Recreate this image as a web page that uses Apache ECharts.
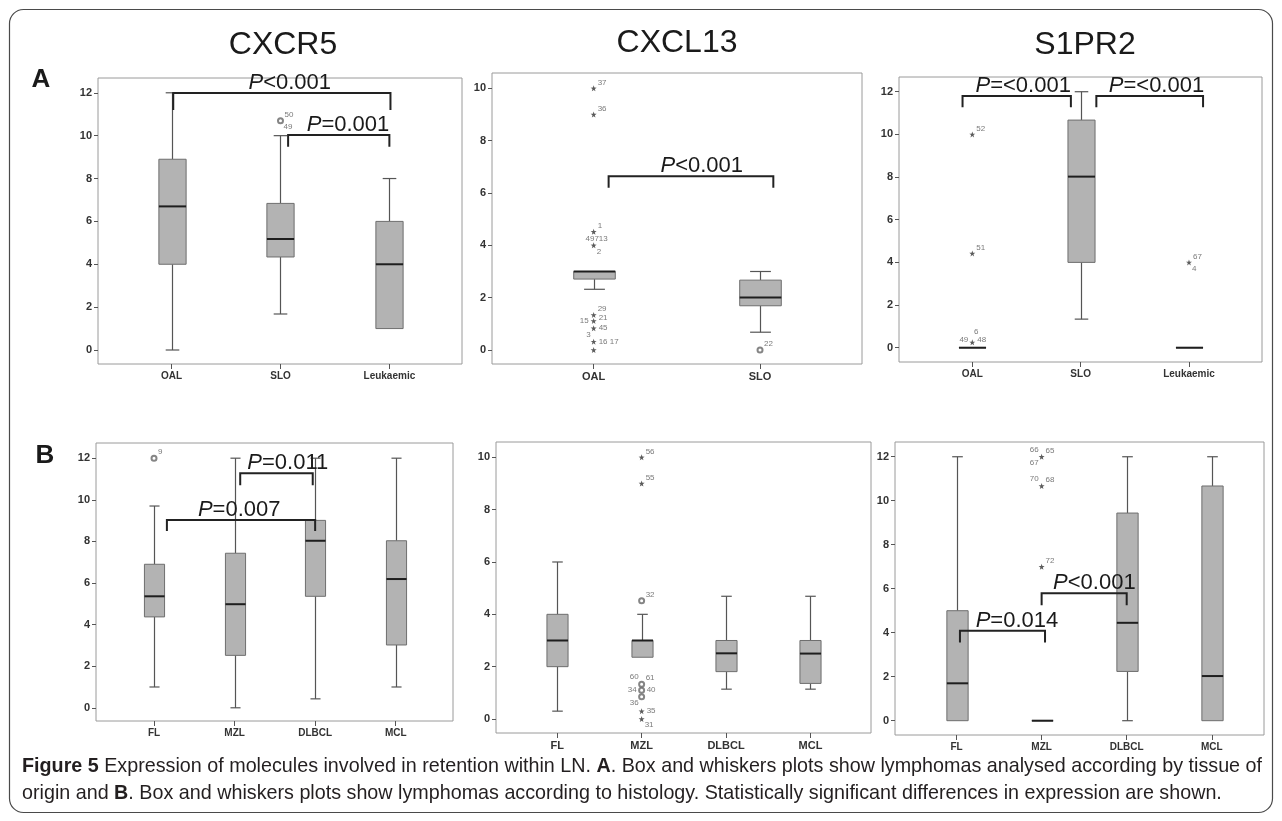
<!DOCTYPE html>
<html><head><meta charset="utf-8">
<script src="https://cdn.jsdelivr.net/npm/echarts@6/dist/echarts.min.js"></script>
<style>html,body{margin:0;padding:0;background:#fff}#c{width:1282px;height:821px}</style>
</head><body><div id="c"></div><script>
// ---------------- DATA ----------------
const catsOrigin = ['OAL', 'SLO', 'Leukaemic'];
const catsOrigin2 = ['OAL', 'SLO'];
const catsHist = ['FL', 'MZL', 'DLBCL', 'MCL'];
const ticks12 = [0, 2, 4, 6, 8, 10, 12];
const ticks10 = [0, 2, 4, 6, 8, 10];
const panelTitles = ['CXCR5', 'CXCL13', 'S1PR2'];
const rowLetters = ['A', 'B'];

// box stats per category: [min, q1, median, q3, max]
const cxcr5Origin = [[0, 4.0, 6.7, 8.9, 12], [1.68, 4.34, 5.18, 6.84, 10], [1, 1, 4, 6, 8]];
const cxcl13Origin = [[2.32, 2.71, 3.0, 3.0, 3.0], [0.68, 1.69, 2.01, 2.67, 3.0]];
const s1pr2Origin = [[0, 0, 0, 0, 0], [1.34, 4.0, 8.02, 10.67, 12], [0, 0, 0, 0, 0]];
const cxcr5Hist = [[1.0, 4.37, 5.36, 6.9, 9.7], [0, 2.52, 4.98, 7.43, 12], [0.43, 5.36, 8.03, 9.01, 12], [1.0, 3.02, 6.19, 8.03, 12]];
const cxcl13Hist = [[0.3, 2.0, 3.0, 4.0, 6.0], [2.36, 2.36, 3.0, 3.0, 4.0], [1.14, 1.81, 2.51, 3.0, 4.69], [1.14, 1.36, 2.5, 3.0, 4.69]];
const s1pr2Hist = [[0, 0, 1.7, 5.0, 12], [0, 0, 0, 0, 0], [0, 2.24, 4.45, 9.44, 12], [0, 0, 2.03, 10.67, 12]];

// outliers: [category number, value, kind ('o' circle, '*' extreme)]
const cxcr5OriginOut = [[2, 10.7, 'o']];
const cxcl13OriginOut = [[1, 10, '*'], [1, 9, '*'], [1, 4.52, '*'], [1, 4.0, '*'], [1, 1.34, '*'], [1, 1.11, '*'], [1, 0.83, '*'], [1, 0.32, '*'], [1, 0, '*'], [2, 0, 'o']];
const s1pr2OriginOut = [[1, 10, '*'], [1, 4.42, '*'], [1, 0.25, '*'], [3, 4.0, '*']];
const cxcr5HistOut = [[1, 12, 'o']];
const cxcl13HistOut = [[2, 10, '*'], [2, 9, '*'], [2, 4.52, 'o'], [2, 1.33, 'o'], [2, 1.1, 'o'], [2, 0.85, 'o'], [2, 0.3, '*'], [2, 0, '*']];
const s1pr2HistOut = [[2, 12, '*'], [2, 10.67, '*'], [2, 7.0, '*']];

// outlier case labels: [category number, value, text, placement]
const cxcr5OriginLab = [[2, 10.7, '50', 'tr'], [2, 10.7, '49', 'br']];
const cxcl13OriginLab = [[1, 10, '37', 'tr'], [1, 9, '36', 'tr'], [1, 4.52, '1', 'tr'], [1, 4.0, '49713', 't'], [1, 4.0, '2', 'br'],
  [1, 1.34, '29', 'tr'], [1, 1.11, '15', 'l'], [1, 1.11, '21', 'ru'], [1, 0.83, '45', 'r'], [1, 0.32, '3', 'tl'], [1, 0.32, '16 17', 'r'], [2, 0, '22', 'tr']];
const s1pr2OriginLab = [[1, 10, '52', 'tr'], [1, 4.42, '51', 'tr'], [1, 0.25, '6', 'tt'], [1, 0.25, '49', 'lu'], [1, 0.25, '48', 'ru'], [3, 4.0, '67', 'tr'], [3, 4.0, '4', 'br']];
const cxcr5HistLab = [[1, 12, '9', 'tr']];
const cxcl13HistLab = [[2, 10, '56', 'tr'], [2, 9, '55', 'tr'], [2, 4.52, '32', 'tr'], [2, 1.33, '60', 'tl'], [2, 1.33, '61', 'tr'],
  [2, 1.1, '34', 'l'], [2, 1.1, '40', 'r'], [2, 0.85, '36', 'bl'], [2, 0.3, '35', 'r'], [2, 0, '31', 'br']];
const s1pr2HistLab = [[2, 12, '66', 'tl'], [2, 12, '65', 'tr'], [2, 12, '67', 'bl'], [2, 10.67, '70', 'tl'], [2, 10.67, '68', 'tr'], [2, 7.0, '72', 'tr']];

// significance brackets: [from cat, to cat, bar value, end value, text centre cat, p text]
const cxcr5OriginSig = [[1.015, 3.01, 11.99, 11.2, 2.085, '<0.001'], [2.07, 3.0, 10.03, 9.48, 2.62, '=0.001']];
const cxcl13OriginSig = [[1.09, 2.08, 6.64, 6.2, 1.65, '<0.001']];
const s1pr2OriginSig = [[0.91, 1.91, 11.8, 11.27, 1.47, '=<0.001'], [2.145, 3.13, 11.8, 11.27, 2.70, '=<0.001']];
const cxcr5HistSig = [[2.07, 2.97, 11.28, 10.7, 2.66, '=0.011'], [1.16, 3.0, 9.03, 8.5, 2.057, '=0.007']];
const cxcl13HistSig = [];
const s1pr2HistSig = [[1.04, 2.04, 4.09, 3.55, 1.71, '=0.014'], [2.0, 3.0, 5.79, 5.25, 2.62, '<0.001']];

const captionLine1 = [['Figure 5', true], [' Expression of molecules involved in retention within LN. ', false], ['A', true], ['. Box and whiskers plots show lymphomas analysed according by tissue of', false]];
const captionLine2 = [['origin and ', false], ['B', true], ['. Box and whiskers plots show lymphomas according to histology. Statistically significant differences in expression are shown.', false]];

// ---------------- LAYOUT / STYLE ----------------
const FONT = "'Liberation Sans', Arial, Helvetica, sans-serif";
const CAP_FONT = "'Liberation Sans', Arial, sans-serif";
const CAP_SIZE = 21;
const CAP_WIDTH = 1240;
const BOX_W = 0.25;
const STAR = 'path://M0,-5L1.2,-1.6L4.8,-1.5L1.9,0.6L2.9,4L0,2L-2.9,4L-1.9,0.6L-4.8,-1.5L-1.2,-1.6Z';
const PLACE = {
  tr: [4, -6, 'left'], br: [3, 6, 'left'], r: [5, 0, 'left'], l: [-5, 0, 'right'],
  tl: [-3, -7, 'right'], bl: [-3, 6, 'right'], t: [3, -7, 'center'], tt: [4, -11, 'center'],
  lu: [-4, -3, 'right'], ru: [5, -3, 'left']
};

const panels = [
  {g: {left: 98, top: 78, width: 364, height: 286}, x: [0.324, 3.667], y: [-0.653, 12.69], cats: catsOrigin, box: cxcr5Origin, out: cxcr5OriginOut, lab: cxcr5OriginLab, sig: cxcr5OriginSig, ticks: ticks12, big: false},
  {g: {left: 492, top: 73, width: 370, height: 291}, x: [0.389, 2.613], y: [-0.535, 10.585], cats: catsOrigin2, box: cxcl13Origin, out: cxcl13OriginOut, lab: cxcl13OriginLab, sig: cxcl13OriginSig, ticks: ticks10, big: true},
  {g: {left: 899, top: 77, width: 363, height: 285}, x: [0.3235, 3.674], y: [-0.67, 12.69], cats: catsOrigin, box: s1pr2Origin, out: s1pr2OriginOut, lab: s1pr2OriginLab, sig: s1pr2OriginSig, ticks: ticks12, big: false},
  {g: {left: 96, top: 443, width: 357, height: 278}, x: [0.28, 4.711], y: [-0.635, 12.73], cats: catsHist, box: cxcr5Hist, out: cxcr5HistOut, lab: cxcr5HistLab, sig: cxcr5HistSig, ticks: ticks12, big: false},
  {g: {left: 496, top: 442, width: 375, height: 291}, x: [0.275, 4.717], y: [-0.535, 10.585], cats: catsHist, box: cxcl13Hist, out: cxcl13HistOut, lab: cxcl13HistLab, sig: cxcl13HistSig, ticks: ticks10, big: true},
  {g: {left: 895, top: 442, width: 369, height: 293}, x: [0.2765, 4.614], y: [-0.65, 12.67], cats: catsHist, box: s1pr2Hist, out: s1pr2HistOut, lab: s1pr2HistLab, sig: s1pr2HistSig, ticks: ticks12, big: false}
];

function boxRenderer(params, api) {
  const x = api.value(0);
  const mn = api.value(1), q1 = api.value(2), md = api.value(3), q3 = api.value(4), mx = api.value(5);
  const half = api.size([BOX_W, 0])[0] / 2;
  const cap = half / 2;
  const c = api.coord([x, md]);
  const cx = Math.round(c[0]) + 0.5;
  const Y = v => api.coord([x, v])[1];
  const yMn = Y(mn), yQ1 = Y(q1), yMd = Y(md), yQ3 = Y(q3), yMx = Y(mx);
  const ws = {stroke: '#555', lineWidth: 1.2, fill: null};
  const ch = [];
  if (mx > q3) {
    ch.push({type: 'line', shape: {x1: cx, y1: yQ3, x2: cx, y2: yMx}, style: ws});
    ch.push({type: 'line', shape: {x1: cx - cap, y1: yMx, x2: cx + cap, y2: yMx}, style: ws});
  }
  if (mn < q1) {
    ch.push({type: 'line', shape: {x1: cx, y1: yQ1, x2: cx, y2: yMn}, style: ws});
    ch.push({type: 'line', shape: {x1: cx - cap, y1: yMn, x2: cx + cap, y2: yMn}, style: ws});
  }
  ch.push({type: 'rect', shape: {x: cx - half, y: yQ3, width: 2 * half, height: yQ1 - yQ3}, style: {fill: '#b3b3b3', stroke: '#6e6e6e', lineWidth: 1}});
  ch.push({type: 'line', shape: {x1: cx - half, y1: yMd, x2: cx + half, y2: yMd}, style: {stroke: '#1e1e1e', lineWidth: 2}});
  return {type: 'group', children: ch};
}

function labelRenderer(list) {
  return function (params, api) {
    const l = list[params.dataIndex];
    const p = api.coord([l[0], l[1]]);
    const pl = PLACE[l[3]];
    return {type: 'text', x: p[0] + pl[0], y: p[1] + pl[1],
      style: {text: l[2], fontSize: 8, fontFamily: FONT, fill: '#7a7a7a', align: pl[2], verticalAlign: 'middle'}};
  };
}

function sigRenderer(list) {
  return function (params, api) {
    const b = list[params.dataIndex];
    const p1 = api.coord([b[0], b[2]]), p2 = api.coord([b[1], b[2]]);
    const yEnd = api.coord([b[0], b[3]])[1];
    const tx = api.coord([b[4], b[2]])[0];
    return {type: 'group', children: [
      {type: 'polyline', shape: {points: [[p1[0], yEnd], [p1[0], p1[1]], [p2[0], p2[1]], [p2[0], yEnd]]}, style: {stroke: '#222', lineWidth: 2, fill: null}},
      {type: 'text', x: tx, y: p1[1] + 1, style: {
        text: '{i|P}{n|' + b[5] + '}',
        rich: {i: {fontStyle: 'italic', fontSize: 22, fontFamily: FONT, fill: '#1a1a1a'}, n: {fontSize: 22, fontFamily: FONT, fill: '#1a1a1a'}},
        align: 'center', verticalAlign: 'bottom'}}
    ]};
  };
}

const grid = [], xAxis = [], yAxis = [], series = [];
panels.forEach((P, i) => {
  grid.push(Object.assign({show: true, borderColor: '#9a9a9a', borderWidth: 1, backgroundColor: 'transparent'}, P.g));
  const catVals = P.cats.map((c, j) => j + 1);
  xAxis.push({gridIndex: i, type: 'value', min: P.x[0], max: P.x[1], position: 'bottom',
    axisLine: {show: false, onZero: false}, splitLine: {show: false},
    axisTick: {show: true, customValues: catVals, length: 5, lineStyle: {color: '#555'}},
    axisLabel: {customValues: catVals, formatter: v => P.cats[Math.round(v) - 1] || '', fontSize: P.big ? 11 : 10, fontWeight: 'bold', color: '#333', fontFamily: FONT, margin: 7}});
  yAxis.push({gridIndex: i, type: 'value', min: P.y[0], max: P.y[1], position: 'left',
    axisLine: {show: false, onZero: false}, splitLine: {show: false},
    axisTick: {show: true, customValues: P.ticks, length: 4, lineStyle: {color: '#555'}},
    axisLabel: {customValues: P.ticks, fontSize: 11, fontWeight: 'bold', color: '#333', fontFamily: FONT, margin: 6}});
  series.push({type: 'custom', xAxisIndex: i, yAxisIndex: i, clip: false, silent: true, z: 2,
    dimensions: ['x', 'min', 'q1', 'median', 'q3', 'max'], encode: {x: 0, y: [1, 2, 3, 4, 5]},
    data: P.box.map((b, j) => [j + 1].concat(b)), renderItem: boxRenderer});
  series.push({type: 'scatter', xAxisIndex: i, yAxisIndex: i, silent: true, z: 3,
    data: P.out.map(o => o[2] === 'o'
      ? {value: [o[0], o[1]], symbol: 'emptyCircle', symbolSize: 5, itemStyle: {color: '#666', borderWidth: 1}}
      : {value: [o[0], o[1]], symbol: STAR, symbolSize: 6, itemStyle: {color: '#333'}})});
  series.push({type: 'custom', xAxisIndex: i, yAxisIndex: i, clip: false, silent: true, z: 4,
    data: P.lab.map(l => [l[0], l[1]]), renderItem: labelRenderer(P.lab)});
  if (P.sig.length) {
    series.push({type: 'custom', xAxisIndex: i, yAxisIndex: i, clip: false, silent: true, z: 5,
      data: P.sig.map(b => [b[0], b[2]]), renderItem: sigRenderer(P.sig)});
  }
});

// caption: horizontally condensed to the line width of the original
const mctx = document.createElement('canvas').getContext('2d');
function segWidth(segs, size) {
  let w = 0;
  segs.forEach(s => { mctx.font = (s[1] ? 'bold ' : '') + size + 'px ' + CAP_FONT; w += mctx.measureText(s[0]).width; });
  return w;
}
const capScale = CAP_WIDTH / segWidth(captionLine1, CAP_SIZE);
const richText = segs => segs.map(s => '{' + (s[1] ? 'b' : 'n') + '|' + s[0] + '}').join('');
const capRich = {b: {fontWeight: 'bold', fontSize: CAP_SIZE, fontFamily: CAP_FONT, fill: '#231f20'}, n: {fontSize: CAP_SIZE, fontFamily: CAP_FONT, fill: '#231f20'}};

const titleX = [283, 677, 1085], titleY = [45, 43, 45];
const graphic = [
  {type: 'rect', shape: {x: 9.5, y: 9.5, width: 1263, height: 803, r: 14}, style: {fill: null, stroke: '#4a4a4a', lineWidth: 1.2}, silent: true},
  {type: 'text', x: 22, y: 766, scaleX: capScale, style: {text: richText(captionLine1), rich: capRich, verticalAlign: 'middle', align: 'left'}},
  {type: 'text', x: 22, y: 793, scaleX: capScale, style: {text: richText(captionLine2), rich: capRich, verticalAlign: 'middle', align: 'left'}},
  {type: 'text', x: 41, y: 80, style: {text: rowLetters[0], fontSize: 26, fontWeight: 'bold', fontFamily: FONT, fill: '#1a1a1a', align: 'center', verticalAlign: 'middle'}},
  {type: 'text', x: 45, y: 456, style: {text: rowLetters[1], fontSize: 26, fontWeight: 'bold', fontFamily: FONT, fill: '#1a1a1a', align: 'center', verticalAlign: 'middle'}}
];
panelTitles.forEach((t, i) => graphic.push({type: 'text', x: titleX[i], y: titleY[i],
  style: {text: t, fontSize: 32, fontFamily: FONT, fill: '#1a1a1a', align: 'center', verticalAlign: 'middle'}}));

const chart = echarts.init(document.getElementById('c'), null, {renderer: 'canvas'});
chart.setOption({animation: false, backgroundColor: '#fff', grid, xAxis, yAxis, series, graphic});
</script></body></html>
